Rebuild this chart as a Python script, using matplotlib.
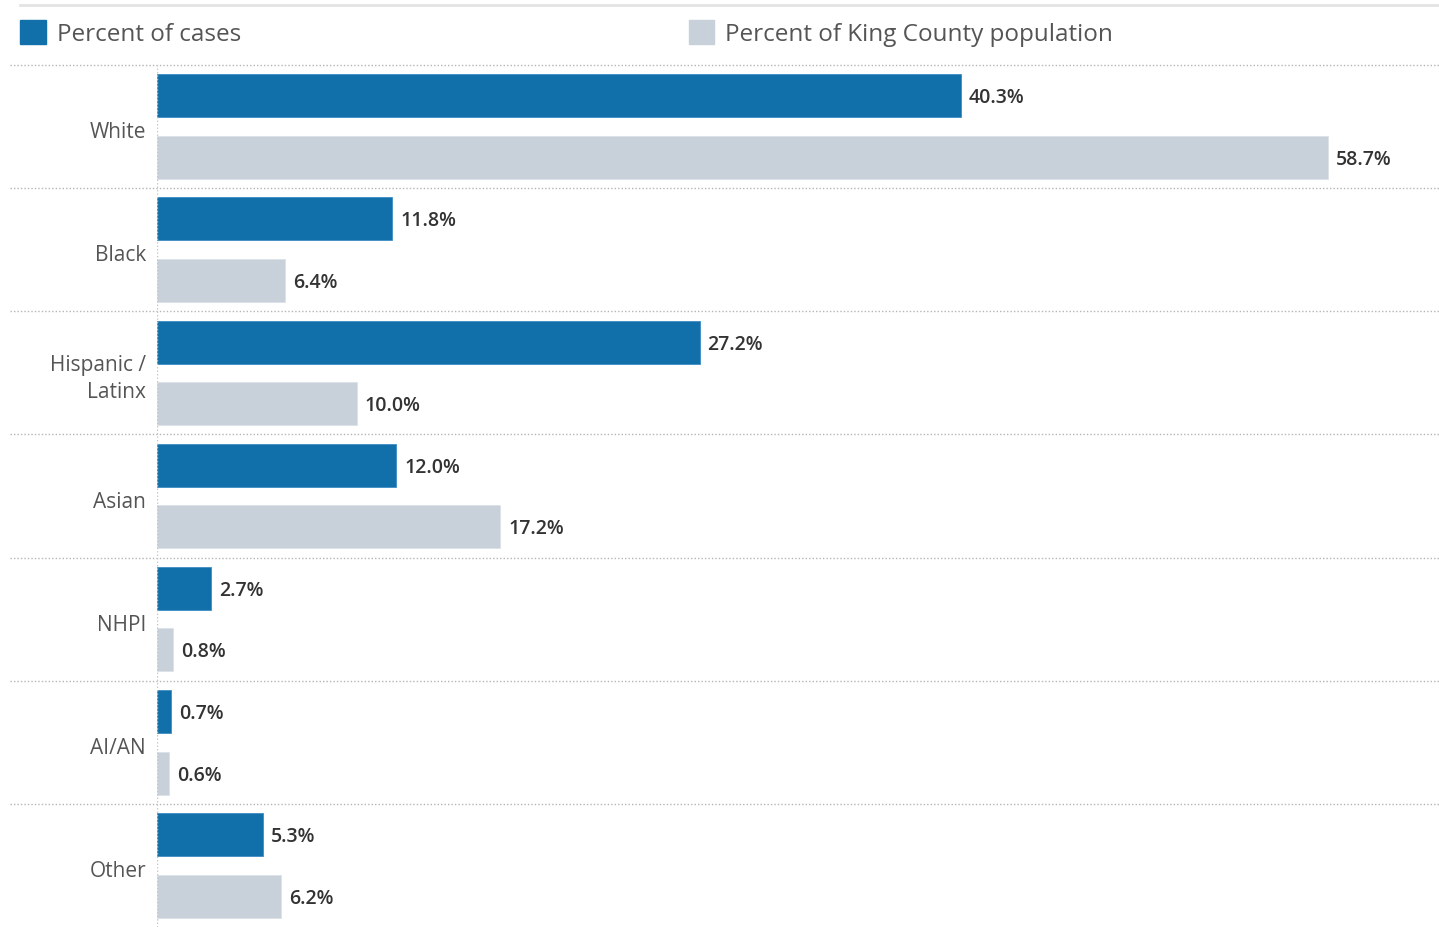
import matplotlib.pyplot as plt
from matplotlib.transforms import blended_transform_factory
from matplotlib.lines import Line2D
from matplotlib.patches import Rectangle

# data
groups = ['White', 'Black', 'Hispanic /\nLatinx', 'Asian', 'NHPI', 'AI/AN', 'Other']
pct_cases = [40.3, 11.8, 27.2, 12.0, 2.7, 0.7, 5.3]
pct_pop = [58.7, 6.4, 10.0, 17.2, 0.8, 0.6, 6.2]

blue = '#1170aa'
grey = '#c8d0d9'
font = 'Open Sans'

fig = plt.figure(figsize=(14.39, 9.27), dpi=100)
ax = fig.add_axes([157 / 1439, 0, 1 - 157 / 1439, 862 / 927])

y = list(range(len(groups)))
h = 0.35
ax.barh([i - 0.25 for i in y], pct_cases, height=h, color=blue, edgecolor='#3d8cc4', lw=0.6)
ax.barh([i + 0.25 for i in y], pct_pop, height=h, color=grey, edgecolor='#dde2e8', lw=0.6)

for i in y:
    ax.text(pct_cases[i] + 0.4, i - 0.23, f'{pct_cases[i]:.1f}%', va='center', ha='left',
            fontsize=14, color='#333333', family=font, fontweight='semibold')
    ax.text(pct_pop[i] + 0.4, i + 0.27, f'{pct_pop[i]:.1f}%', va='center', ha='left',
            fontsize=14, color='#333333', family=font, fontweight='semibold')
    ax.text(-0.55, i + 0.05, groups[i], va='center', ha='right', fontsize=15,
            color='#555555', family=font, linespacing=1.35)

ax.set_xlim(0, (1439 - 157) / 19.95)
ax.set_ylim(len(groups) - 0.5, -0.5)
ax.set_xticks([])
ax.set_yticks([])
for s in ax.spines.values():
    s.set_visible(False)

# dotted row separators across the label area too
tr = blended_transform_factory(fig.transFigure, ax.transData)
for i in range(len(groups)):
    ax.add_line(Line2D([10 / 1439, 1], [i - 0.5, i - 0.5], transform=tr, clip_on=False,
                       color='#b5b5b5', lw=1, ls=(0, (1, 1.5))))
ax.axvline(0, color='#c5c5c5', lw=1, ls=(0, (1, 1.5)))

# top rule and legend
fig.add_artist(Line2D([20 / 1439, 1], [1 - 5 / 927, 1 - 5 / 927], color='#e3e3e3', lw=2))
fig.add_artist(Rectangle((20 / 1439, 1 - 44 / 927), 26 / 1439, 24 / 927, color=blue))
fig.text(57 / 1439, 1 - 35 / 927, 'Percent of cases', va='center', ha='left',
         fontsize=17.5, color='#555555', family=font)
fig.add_artist(Rectangle((689 / 1439, 1 - 44 / 927), 25 / 1439, 24 / 927, color=grey))
fig.text(725 / 1439, 1 - 35 / 927, 'Percent of King County population', va='center', ha='left',
         fontsize=17.5, color='#555555', family=font)

fig.savefig('out.png', dpi=100)
